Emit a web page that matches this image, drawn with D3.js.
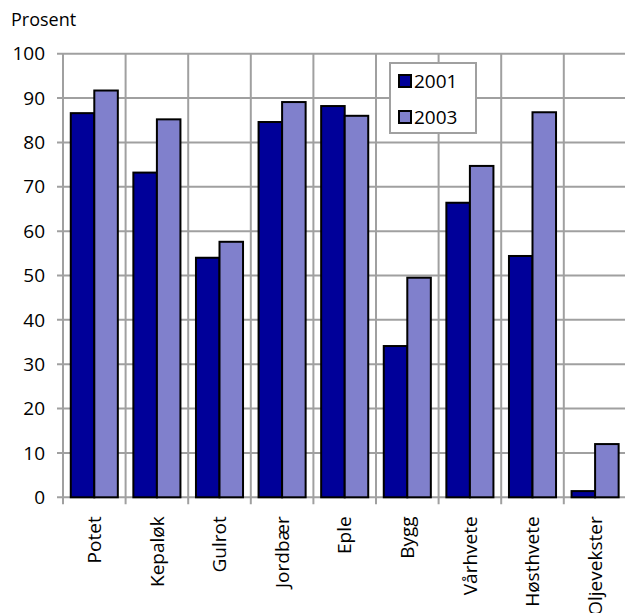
<!DOCTYPE html>
<html>
<head>
<meta charset="utf-8">
<script src="https://cdn.jsdelivr.net/npm/d3@7"></script>
<style>
  html, body { margin: 0; padding: 0; background: #fff; }
  svg { display: block; font-family: "Open Sans", "Noto Sans", sans-serif; }
</style>
</head>
<body>
<svg id="chart" width="625" height="613"></svg>
<script>
// Andel (prosent) per kultur, 2001 og 2003
const categories = ["Potet", "Kepaløk", "Gulrot", "Jordbær", "Eple", "Bygg", "Vårhvete", "Høsthvete", "Oljevekster"];
const seriesNames = ["2001", "2003"];
const values2001 = [86.6, 73.2, 54.0, 84.6, 88.2, 34.1, 66.4, 54.4, 1.4];
const values2003 = [91.7, 85.2, 57.6, 89.1, 86.0, 49.5, 74.7, 86.8, 12.0];
const yTicks = [0, 10, 20, 30, 40, 50, 60, 70, 80, 90, 100];
const colors = ["#000099", "#8080CC"];

const svg = d3.select("#chart");
const margin = { left: 63, top: 53.7, right: -1.4, bottom: 115.7 };
const W = 625, H = 613;
const x0 = margin.left, x1 = W - margin.right;
const yTop = margin.top, yBot = H - margin.bottom;

const x = d3.scaleBand().domain(categories).range([x0, x1]).paddingInner(0).paddingOuter(0);
const xs = d3.scaleBand().domain(seriesNames).range([0, x.bandwidth()]).paddingInner(0).paddingOuter(0.33);
const y = d3.scaleLinear().domain([0, 100]).range([yBot, yTop]);

const grid = "#a0a0a0";

// horizontal gridlines with left tick marks
svg.append("g").selectAll("line").data(yTicks).join("line")
  .attr("x1", x0 - 6).attr("x2", x1)
  .attr("y1", d => y(d)).attr("y2", d => y(d))
  .attr("stroke", grid).attr("stroke-width", 2);

// vertical gridlines at category boundaries, extending below the axis as ticks
const bounds = categories.map(c => x(c)).concat([x1]);
svg.append("g").selectAll("line").data(bounds).join("line")
  .attr("x1", d => d).attr("x2", d => d)
  .attr("y1", yTop).attr("y2", yBot + 7)
  .attr("stroke", grid).attr("stroke-width", 2);

// y axis labels
svg.append("g").selectAll("text").data(yTicks).join("text")
  .attr("x", 45).attr("y", d => y(d))
  .attr("dy", "0.35em")
  .attr("text-anchor", "end")
  .attr("font-size", 19)
  .attr("fill", "#000")
  .text(d => d);

// unit label
svg.append("text").attr("x", 11).attr("y", 26)
  .attr("font-size", 18).attr("fill", "#000").text("Prosent");

// bars
const rows = categories.map((c, i) => ({ c, vals: [values2001[i], values2003[i]] }));
const groups = svg.append("g").selectAll("g").data(rows).join("g")
  .attr("transform", d => `translate(${x(d.c)},0)`);
groups.selectAll("rect").data(d => d.vals.map((v, j) => ({ v, s: seriesNames[j], j }))).join("rect")
  .attr("x", d => xs(d.s))
  .attr("width", xs.bandwidth())
  .attr("y", d => y(d.v))
  .attr("height", d => yBot - y(d.v))
  .attr("fill", d => colors[d.j])
  .attr("stroke", "#000").attr("stroke-width", 2);

// category labels, rotated
svg.append("g").selectAll("text").data(categories).join("text")
  .attr("transform", d => `translate(${x(d) + x.bandwidth() / 2},${yBot + 19}) rotate(-90)`)
  .attr("dy", "0.35em")
  .attr("text-anchor", "end")
  .attr("font-size", 19)
  .attr("fill", "#000")
  .text(d => d);

// legend
const lg = svg.append("g").attr("transform", "translate(390,63)");
lg.append("rect").attr("x", 0).attr("y", 0).attr("width", 86).attr("height", 70)
  .attr("fill", "#fff").attr("stroke", grid).attr("stroke-width", 2);
seriesNames.forEach((s, i) => {
  const yy = 18 + i * 36;
  lg.append("rect").attr("x", 9).attr("y", yy - 6).attr("width", 12).attr("height", 12)
    .attr("fill", colors[i]).attr("stroke", "#000").attr("stroke-width", 2);
  lg.append("text").attr("x", 24).attr("y", yy).attr("dy", "0.35em")
    .attr("font-size", 19).attr("fill", "#000").text(s);
});
</script>
</body>
</html>
